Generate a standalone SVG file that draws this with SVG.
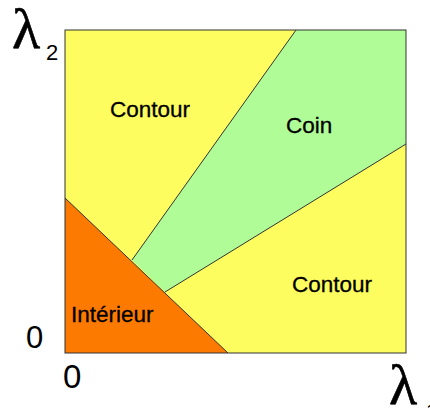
<svg xmlns="http://www.w3.org/2000/svg" width="430" height="416" viewBox="0 0 430 416">
<style>
.lbl{font-family:"Liberation Sans",Arial,sans-serif;font-size:22.5px;fill:#000;stroke:#000;stroke-width:0.3}
.num{font-family:"Liberation Sans",Arial,sans-serif;fill:#000}
.lam{font-family:"Liberation Serif","Times New Roman",serif;font-size:58px;fill:#000;stroke:#000;stroke-width:0.6}
.edge{stroke:#333;stroke-width:1;fill:none}
</style>
<rect width="430" height="416" fill="#fff"/>
<g id="plot">
<rect x="65" y="30" width="341" height="323" fill="#fdfd5f"/>
</g>
<g id="coin">
<polygon points="296,30 406,30 406,144 165,292 132,260" fill="#b0fd98"/>
</g>
<g id="interieur">
<polygon points="65,198 228,353 65,353" fill="#fd7a00"/>
</g>
<g id="connectors">
<line class="edge" x1="65" y1="198" x2="228" y2="353"/>
<line class="edge" x1="132" y1="260" x2="296" y2="30"/>
<line class="edge" x1="165" y1="292" x2="406" y2="144"/>
<rect class="edge" x="65" y="30" width="341" height="323" stroke-width="1.5"/>
</g>
<g id="labels">
<text class="lbl" x="110" y="117">Contour</text>
<text class="lbl" x="286" y="133">Coin</text>
<text class="lbl" x="292" y="292">Contour</text>
<text class="lbl" x="71" y="322">Intérieur</text>
<text class="num" x="26" y="348" font-size="31">0</text>
<text class="num" x="63" y="388" font-size="33">0</text>
<text class="lam" x="12" y="48">λ</text>
<text class="num" x="46" y="60" font-size="22">2</text>
<text class="lam" x="389" y="404">λ</text>
<text class="num" x="426" y="418" font-size="21">1</text>
</g>
</svg>
